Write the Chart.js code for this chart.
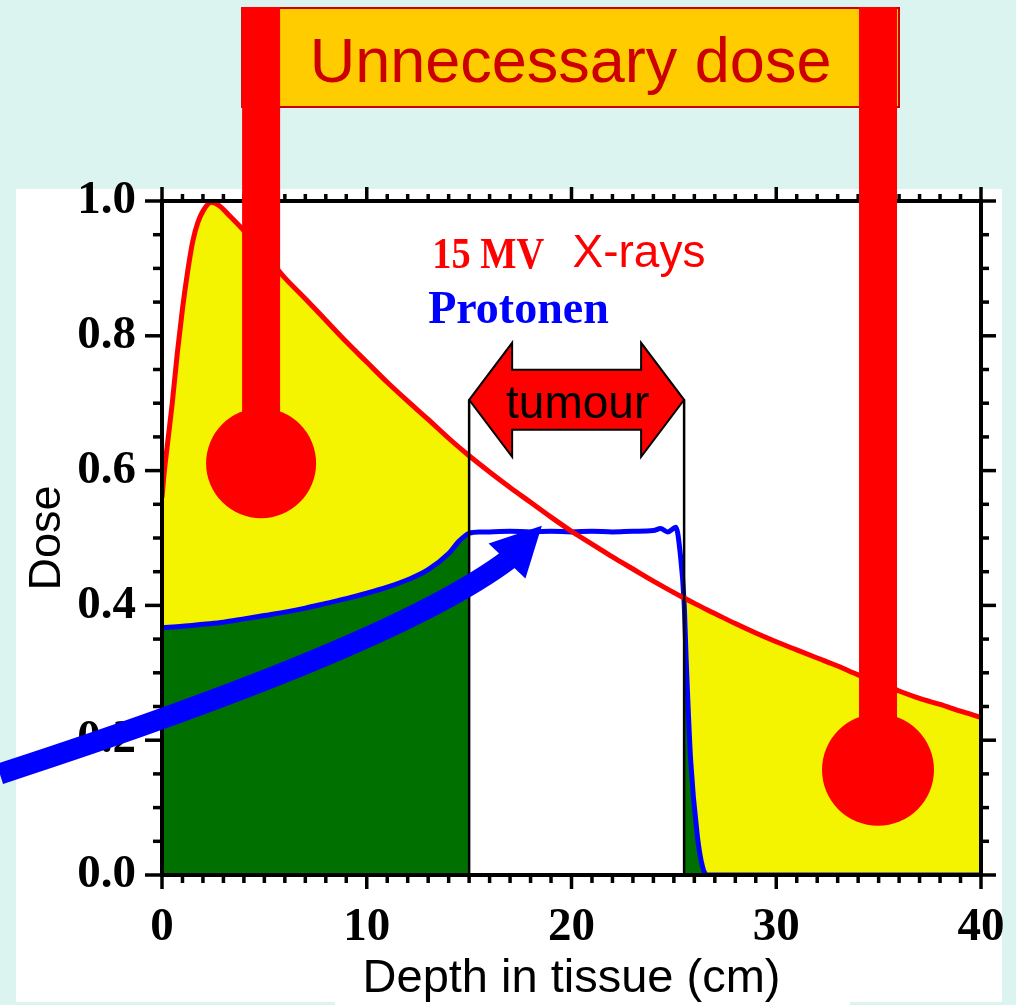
<!DOCTYPE html>
<html><head><meta charset="utf-8">
<script src="https://cdn.jsdelivr.net/npm/chart.js@4/dist/chart.umd.min.js"></script>
<style>html,body{margin:0;padding:0;background:#dcf4f0;}#wrap{width:1016px;height:1005px;}canvas{display:block;}</style>
</head><body><div id="wrap"><canvas id="c" width="1016" height="1005"></canvas></div>
<script>
// ---- data ----
const xrayDepth = [0, 0.1, 0.25, 0.5, 0.75, 1, 1.25, 1.5, 1.75, 2, 2.4, 2.8, 3.3, 4, 5, 6, 7, 8, 9, 10, 11, 12, 13, 14, 15, 16, 17, 18, 19, 20, 21, 22, 23, 24, 25, 25.5, 26, 27, 28, 29, 30, 31, 32, 33, 34, 35, 36, 37, 38, 39, 40];
const xrayDose = [0.56, 0.595, 0.635, 0.70, 0.775, 0.84, 0.895, 0.94, 0.968, 0.985, 0.998, 0.993, 0.978, 0.956, 0.922, 0.886, 0.855, 0.823, 0.791, 0.761, 0.731, 0.703, 0.676, 0.648, 0.622, 0.598, 0.575, 0.553, 0.531, 0.51, 0.491, 0.472, 0.454, 0.436, 0.419, 0.411, 0.403, 0.388, 0.373, 0.359, 0.346, 0.334, 0.322, 0.31, 0.297, 0.285, 0.273, 0.262, 0.253, 0.243, 0.234];
const protonDepth = [0, 1, 2, 3, 4, 5, 6, 7, 8, 9, 10, 11, 12, 13, 14, 14.5, 15, 15.5, 16, 17, 18, 19, 20, 21, 22, 23, 24, 24.35, 24.7, 25.1, 25.3, 25.5, 25.6, 25.82, 26.15, 26.4, 26.63, 27, 30, 35, 40];
const protonDose = [0.367, 0.369, 0.372, 0.375, 0.38, 0.385, 0.39, 0.396, 0.403, 0.41, 0.418, 0.427, 0.438, 0.453, 0.477, 0.495, 0.507, 0.509, 0.509, 0.51, 0.509, 0.51, 0.509, 0.51, 0.509, 0.51, 0.511, 0.514, 0.509, 0.516, 0.48, 0.405, 0.32, 0.17, 0.057, 0.012, 0, 0, 0, 0, 0];
const xTicks = [0, 10, 20, 30, 40];
const yTicks = [0, 0.2, 0.4, 0.6, 0.8, 1.0];
const xMinorStep = 1;
const yMinorStep = 0.05;
const tumourRange = [15, 25.5];
const xTitle = 'Depth in tissue (cm)';
const yTitle = 'Dose';
const bannerText = 'Unnecessary dose';
const tumourText = 'tumour';

// ---- helpers ----
const pts = (xs, ys) => xs.map((x, i) => ({x, y: ys[i]}));
const xrayPts = pts(xrayDepth, xrayDose);
const protonPts = pts(protonDepth, protonDose);
const left = p => p.filter(q => q.x <= tumourRange[0]);
const right = p => p.filter(q => q.x >= tumourRange[1]);

const RED = '#ff0000', BLUE = '#0000ff', YELLOW = '#f4f400', GREEN = '#007000';
const lineBase = {pointRadius: 0, cubicInterpolationMode: 'monotone', borderJoinStyle: 'round'};

const datasets = [
  {...lineBase, label: '15 MV X-rays', data: xrayPts, borderColor: RED, borderWidth: 5, fill: false},
  {...lineBase, label: 'Protonen', data: protonPts, borderColor: BLUE, borderWidth: 5, fill: false},
  {...lineBase, data: left(xrayPts), borderWidth: 0, borderColor: 'rgba(0,0,0,0)', backgroundColor: YELLOW, fill: 3},
  {...lineBase, data: left(protonPts), borderWidth: 0, borderColor: 'rgba(0,0,0,0)', backgroundColor: GREEN, fill: 'origin'},
  {...lineBase, data: right(xrayPts), borderWidth: 0, borderColor: 'rgba(0,0,0,0)', backgroundColor: YELLOW, fill: 5},
  {...lineBase, data: right(protonPts), borderWidth: 0, borderColor: 'rgba(0,0,0,0)', backgroundColor: GREEN, fill: 'origin'}
];

function line(ctx, x1, y1, x2, y2) { ctx.beginPath(); ctx.moveTo(x1, y1); ctx.lineTo(x2, y2); ctx.stroke(); }

const deco = {
  id: 'deco',
  beforeDraw(chart) {
    const ctx = chart.ctx;
    ctx.save();
    ctx.fillStyle = '#dcf4f0'; ctx.fillRect(0, 0, chart.width, chart.height);
    ctx.fillStyle = '#ffffff'; ctx.fillRect(16, 189, 986, 813); ctx.fillRect(335, 1000, 515, 5);
    ctx.restore();
  },
  afterDatasetsDraw(chart) {
    const ctx = chart.ctx, xs = chart.scales.x, ys = chart.scales.y;
    const X = v => xs.getPixelForValue(v), Y = v => ys.getPixelForValue(v);
    const L = X(xTicks[0]), R = X(xTicks[xTicks.length - 1]), T = Y(yTicks[yTicks.length - 1]), B = Y(yTicks[0]);
    ctx.save();

    // tumour boundaries
    const ay = Y(0.705), x1 = X(tumourRange[0]), x2 = X(tumourRange[1]);
    ctx.strokeStyle = '#000'; ctx.lineWidth = 2.5;
    line(ctx, x1, ay, x1, B); line(ctx, x2, ay, x2, B);

    // frame and ticks
    ctx.lineWidth = 4; ctx.strokeStyle = '#000';
    ctx.strokeRect(L, T, R - L, B - T);
    ctx.lineWidth = 3.5;
    for (let v = xTicks[0]; v <= xTicks[xTicks.length - 1] + 1e-9; v += xMinorStep) {
      const p = X(v), major = xTicks.includes(Math.round(v));
      line(ctx, p, B, p, B + (major ? 14 : 8));
      line(ctx, p, T, p, T - (major ? 14 : 7));
    }
    const nY = Math.round(1 / yMinorStep);
    for (let i = 0; i <= nY; i++) {
      const v = i * yMinorStep, p = Y(v), major = i % 4 === 0;
      line(ctx, L - (major ? 17 : 9), p, L, p);
      line(ctx, R, p, R + (major ? 15 : 8), p);
    }

    // double arrow "tumour"
    const hl = 43, hh = 57, sh = 30;
    ctx.beginPath();
    ctx.moveTo(x1, ay); ctx.lineTo(x1 + hl, ay - hh); ctx.lineTo(x1 + hl, ay - sh);
    ctx.lineTo(x2 - hl, ay - sh); ctx.lineTo(x2 - hl, ay - hh); ctx.lineTo(x2, ay);
    ctx.lineTo(x2 - hl, ay + hh); ctx.lineTo(x2 - hl, ay + sh); ctx.lineTo(x1 + hl, ay + sh);
    ctx.lineTo(x1 + hl, ay + hh); ctx.closePath();
    ctx.fillStyle = RED; ctx.fill(); ctx.lineWidth = 2; ctx.strokeStyle = '#000'; ctx.stroke();
    ctx.fillStyle = '#000'; ctx.font = '46px "Liberation Sans", Arial, sans-serif';
    ctx.textAlign = 'center'; ctx.textBaseline = 'alphabetic';
    ctx.fillText(tumourText, (x1 + x2) / 2 + 1, ay + 18);

    // legend texts
    ctx.textAlign = 'left';
    ctx.fillStyle = RED; ctx.font = 'bold 44px "Liberation Serif", serif';
    ctx.fillText('15 MV', X(13.2), Y(0.9006), 112);
    ctx.font = '46px "Liberation Sans", Arial, sans-serif';
    ctx.fillText('X-rays', X(20.05), Y(0.902));
    ctx.fillStyle = BLUE; ctx.font = 'bold 46px "Liberation Serif", serif';
    ctx.fillText('Protonen', X(13.0), Y(0.819), 182);

    // blue curved arrow
    const s0 = [X(-7.92), Y(0.15)], c0 = [X(11.39), Y(0.341)], e0 = [X(16.87), Y(0.466)];
    ctx.strokeStyle = BLUE; ctx.lineWidth = 21; ctx.lineCap = 'butt';
    ctx.beginPath(); ctx.moveTo(s0[0], s0[1]); ctx.quadraticCurveTo(c0[0], c0[1], e0[0] + 2, e0[1] - 2); ctx.stroke();
    ctx.fillStyle = BLUE; ctx.beginPath();
    ctx.moveTo(X(18.55), Y(0.518)); ctx.lineTo(X(15.95), Y(0.492)); ctx.lineTo(X(17.75), Y(0.44)); ctx.closePath(); ctx.fill();

    // banner
    const bl = X(4.84) - 19, br = X(34.97) + 21;
    ctx.fillStyle = '#ffcc00'; ctx.fillRect(bl, 8, br - bl, 99);
    ctx.strokeStyle = '#cc0000'; ctx.lineWidth = 2; ctx.strokeRect(bl, 8, br - bl, 99);
    ctx.fillStyle = '#cc0000'; ctx.font = '63px "Liberation Sans", Arial, sans-serif';
    ctx.textAlign = 'center'; ctx.fillText(bannerText, (bl + br) / 2, 82);

    // red pointers
    ctx.fillStyle = RED;
    [[4.84, 0.611, 55], [34.97, 0.156, 56]].forEach(([cx, cy, r]) => {
      const px = X(cx), py = Y(cy);
      ctx.fillRect(px - 19, 7, 38, py - 7);
      ctx.beginPath(); ctx.arc(px, py, r, 0, Math.PI * 2); ctx.fill();
    });
    ctx.restore();
  }
};

const tickFont = {family: '"Liberation Serif", serif', weight: 'bold', size: 47, lineHeight: 1.2};

new Chart(document.getElementById('c'), {
  type: 'line',
  data: {datasets},
  plugins: [deco],
  options: {
    responsive: false, animation: false, events: [],
    layout: {padding: {left: 16, top: 201, right: 35, bottom: 0}},
    plugins: {legend: {display: false}, tooltip: {enabled: false}},
    scales: {
      x: {
        type: 'linear', min: 0, max: 40,
        afterBuildTicks: s => { s.ticks = xTicks.map(v => ({value: v})); },
        afterFit: s => { s.height = 130; s.paddingLeft = 0; s.paddingRight = 0; },
        grid: {display: false, drawTicks: false}, border: {display: false},
        ticks: {padding: 25, color: '#000', font: tickFont, callback: v => String(v), maxRotation: 0, autoSkip: false},
        title: {display: true, text: xTitle, color: '#000', font: {family: '"Liberation Sans", Arial, sans-serif', size: 47, lineHeight: 1.1}, padding: {top: 0, bottom: 0}}
      },
      y: {
        type: 'linear', min: 0, max: 1,
        afterBuildTicks: s => { s.ticks = yTicks.map(v => ({value: v})); },
        afterFit: s => { s.width = 146; },
        grid: {display: false, drawTicks: false}, border: {display: false},
        ticks: {padding: 26, color: '#000', font: tickFont, callback: v => Number(v).toFixed(1), autoSkip: false},
        title: {display: true, text: yTitle, color: '#000', font: {family: '"Liberation Sans", Arial, sans-serif', size: 45, lineHeight: 1.2}, padding: {top: 5, bottom: 0}}
      }
    }
  }
});
</script></body></html>
